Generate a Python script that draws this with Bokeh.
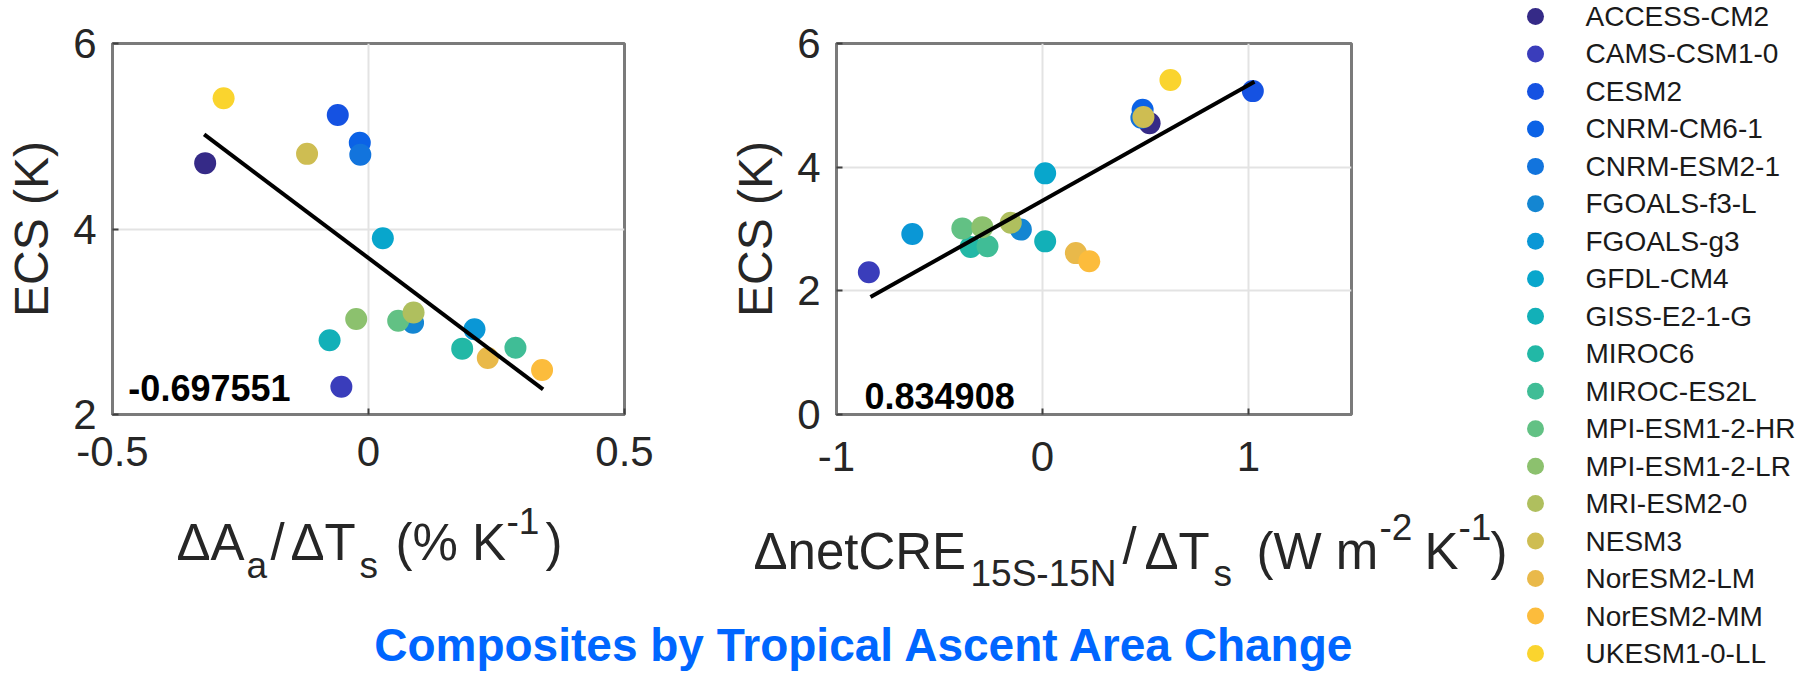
from bokeh.plotting import figure
from bokeh.layouts import row, column
from bokeh.models import Range1d, Label, FixedTicker, ColumnDataSource
from bokeh.core.properties import value
from bokeh.embed import file_html
from bokeh.resources import INLINE

# ---------------- data ----------------
models = ["ACCESS-CM2", "CAMS-CSM1-0", "CESM2", "CNRM-CM6-1", "CNRM-ESM2-1",
          "FGOALS-f3-L", "FGOALS-g3", "GFDL-CM4", "GISS-E2-1-G", "MIROC6",
          "MIROC-ES2L", "MPI-ESM1-2-HR", "MPI-ESM1-2-LR", "MRI-ESM2-0", "NESM3",
          "NorESM2-LM", "NorESM2-MM", "UKESM1-0-LL"]
colors = ["#352a87", "#3a3dbb", "#1552e2", "#0b62e6", "#1274dd",
          "#1486d2", "#0a97d6", "#08a6cc", "#12b0b8", "#22b8a6",
          "#40bd96", "#62c184", "#8cc16e", "#afbf5e", "#cebd52",
          "#e9b94a", "#fcbc3c", "#fad42e"]
ecs = [4.71, 2.30, 5.23, 4.93, 4.80, 2.99, 2.92, 3.90, 2.80, 2.71,
       2.72, 3.01, 3.03, 3.10, 4.81, 2.61, 2.48, 5.41]
area_change = [-0.319, -0.053, -0.060, -0.017, -0.016, 0.087, 0.207, 0.028, -0.076, 0.183,
               0.287, 0.058, -0.024, 0.088, -0.120, 0.233, 0.339, -0.283]
netcre_change = [0.52, -0.843, 1.021, 0.486, 0.48, -0.105, -0.632, 0.013, 0.013, -0.349,
                 -0.267, -0.389, -0.292, -0.154, 0.49, 0.162, 0.227, 0.621]
fit_area_x = [-0.321, 0.341]
fit_area_y = [5.02, 2.27]
fit_cre_x = [-0.835, 1.029]
fit_cre_y = [1.90, 5.38]
corr_area = "-0.697551"
corr_cre = "0.834908"
x1_ticks = [-0.5, 0, 0.5]
y1_ticks = [2, 4, 6]
x2_ticks = [-1, 0, 1]
y2_ticks = [0, 2, 4, 6]
title_text = "Composites by Tropical Ascent Area Change"

FONT = "Liberation Sans"
TICK_C = "#262626"
FRAME_C = "#7a7a7a"

src = ColumnDataSource(dict(area=area_change, cre=netcre_change, ecs=ecs,
                            color=colors, model=models))


def make_panel(xr, yr, xt, yt, w, h, bl, bt, br, bb, xstand):
    p = figure(x_range=Range1d(*xr), y_range=Range1d(*yr), title=None,
               width=w, height=h,
               min_border_left=bl, min_border_top=bt,
               min_border_right=br, min_border_bottom=bb,
               toolbar_location=None, output_backend="svg")
    p.xaxis.ticker = FixedTicker(ticks=xt)
    p.yaxis.ticker = FixedTicker(ticks=yt)
    p.xaxis.major_label_overrides = {t: ("%g" % t) for t in xt}
    p.yaxis.major_label_overrides = {t: ("%g" % t) for t in yt}
    for ax in (p.xaxis[0], p.yaxis[0]):
        ax.axis_line_color = FRAME_C
        ax.axis_line_width = 3
        ax.major_tick_in = 6
        ax.major_tick_out = 0
        ax.major_tick_line_color = "#404040"
        ax.major_tick_line_width = 2
        ax.minor_tick_line_color = None
        ax.major_label_text_font = FONT
        ax.major_label_text_font_size = "42px"
        ax.major_label_text_color = TICK_C
    p.xaxis.axis_label = None
    p.xaxis.major_label_standoff = xstand
    p.yaxis.major_label_standoff = 16
    p.yaxis.axis_label = "ECS (K)"
    p.yaxis.axis_label_text_font = FONT
    p.yaxis.axis_label_text_font_size = "48px"
    p.yaxis.axis_label_text_font_style = "normal"
    p.yaxis.axis_label_text_color = TICK_C
    p.yaxis.axis_label_standoff = 12
    p.outline_line_color = FRAME_C
    p.outline_line_width = 3
    p.grid.grid_line_color = "#e3e3e3"
    p.grid.grid_line_width = 2
    p.xgrid.ticker = FixedTicker(ticks=xt)
    p.ygrid.ticker = FixedTicker(ticks=yt)
    return p


# ---------------- left panel ----------------
p1 = make_panel((-0.5, 0.5), (2, 6), x1_ticks, y1_ticks, 692, 495, 112, 37, 68, 80, 22)
p1.scatter("area", "ecs", source=src, size=22, color="color", line_color=None)
p1.line(fit_area_x, fit_area_y, line_color="black", line_width=4)
p1.add_layout(Label(x=-0.469, y=2.286, text=corr_area, text_font=FONT, text_font_size="36px",
                    text_font_style="bold", text_color="black", text_baseline="alphabetic"))

# ---------------- right panel ----------------
p2 = make_panel((-1, 1.5), (0, 6), x2_ticks, y2_ticks, 816, 495, 144, 43, 157, 81, 27)
p2.scatter("cre", "ecs", source=src, size=22, color="color", line_color=None)
p2.line(fit_cre_x, fit_cre_y, line_color="black", line_width=4)
p2.add_layout(Label(x=-0.864, y=0.307, text=corr_cre, text_font=FONT, text_font_size="36px",
                    text_font_style="bold", text_color="black", text_baseline="alphabetic"))

# ---------------- bottom strip: x-axis labels and title ----------------
# this strip's coordinates follow page pixels (x: 8..1516, y: 510..686 downwards)
bfig = figure(width=1508, height=176, x_range=Range1d(8, 1516), y_range=Range1d(686, 510),
              title=None, x_axis_location=None, y_axis_location=None,
              min_border=0, min_border_left=0, min_border_right=0,
              min_border_top=0, min_border_bottom=0,
              toolbar_location=None, output_backend="svg")
bfig.grid.visible = False
bfig.outline_line_color = None

MAIN, SUB = "51px", "37px"


def seg(x, y, text, size, color=TICK_C, style="normal", align="left"):
    bfig.add_layout(Label(x=x, y=y, text=text, text_font=FONT, text_font_size=size,
                          text_font_style=style, text_color=color,
                          text_align=align, text_baseline="alphabetic"))


# left x label:  ΔA_a/ΔT_s (% K^-1)
seg(184, 557, "\u0394A", MAIN)
seg(254, 580, "a", SUB)
seg(278, 557, "/", MAIN)
seg(298, 557, "\u0394T", MAIN)
seg(367, 580, "s", SUB)
seg(403, 557, "(% K", MAIN)
seg(514, 535, "-1", SUB)
seg(553, 557, ")", MAIN)

# right x label:  ΔnetCRE_15S-15N/ΔT_s (W m^-2 K^-1)
seg(761, 566, "\u0394netCRE", MAIN)
seg(978, 588, "15S-15N", SUB)
seg(1130, 561, "/", MAIN)
seg(1152, 566, "\u0394T", MAIN)
seg(1221, 588, "s", SUB)
seg(1264, 566, "(W m", MAIN)
seg(1387, 541, "-2", SUB)
seg(1432, 566, "K", MAIN)
seg(1466, 541, "-1", SUB)
seg(1498, 566, ")", MAIN)

# title
seg(872.5, 659, title_text, "46px", color="#0066ff", style="bold", align="center")

# ---------------- legend ----------------
lsrc = ColumnDataSource(dict(idx=list(range(len(models))), name=models, color=colors,
                             mx=[27] * len(models), tx=[77] * len(models)))
lfig = figure(width=288, height=679, x_range=Range1d(0, 288), y_range=Range1d(17.694, -0.427),
              title=None, x_axis_location=None, y_axis_location=None,
              min_border=0, min_border_left=0, min_border_right=0,
              min_border_top=0, min_border_bottom=0,
              toolbar_location=None, output_backend="svg")
lfig.grid.visible = False
lfig.outline_line_color = None
lfig.scatter("mx", "idx", source=lsrc, size=17, color="color", line_color=None)
lfig.text("tx", "idx", text="name", source=lsrc, text_font=value(FONT),
          text_font_size="28px", text_color="#1a1a1a", text_baseline="middle",
          text_align="left")

layout = row(column(row(p1, p2), bfig), lfig)
open("out.html", "w").write(file_html(layout, INLINE))
